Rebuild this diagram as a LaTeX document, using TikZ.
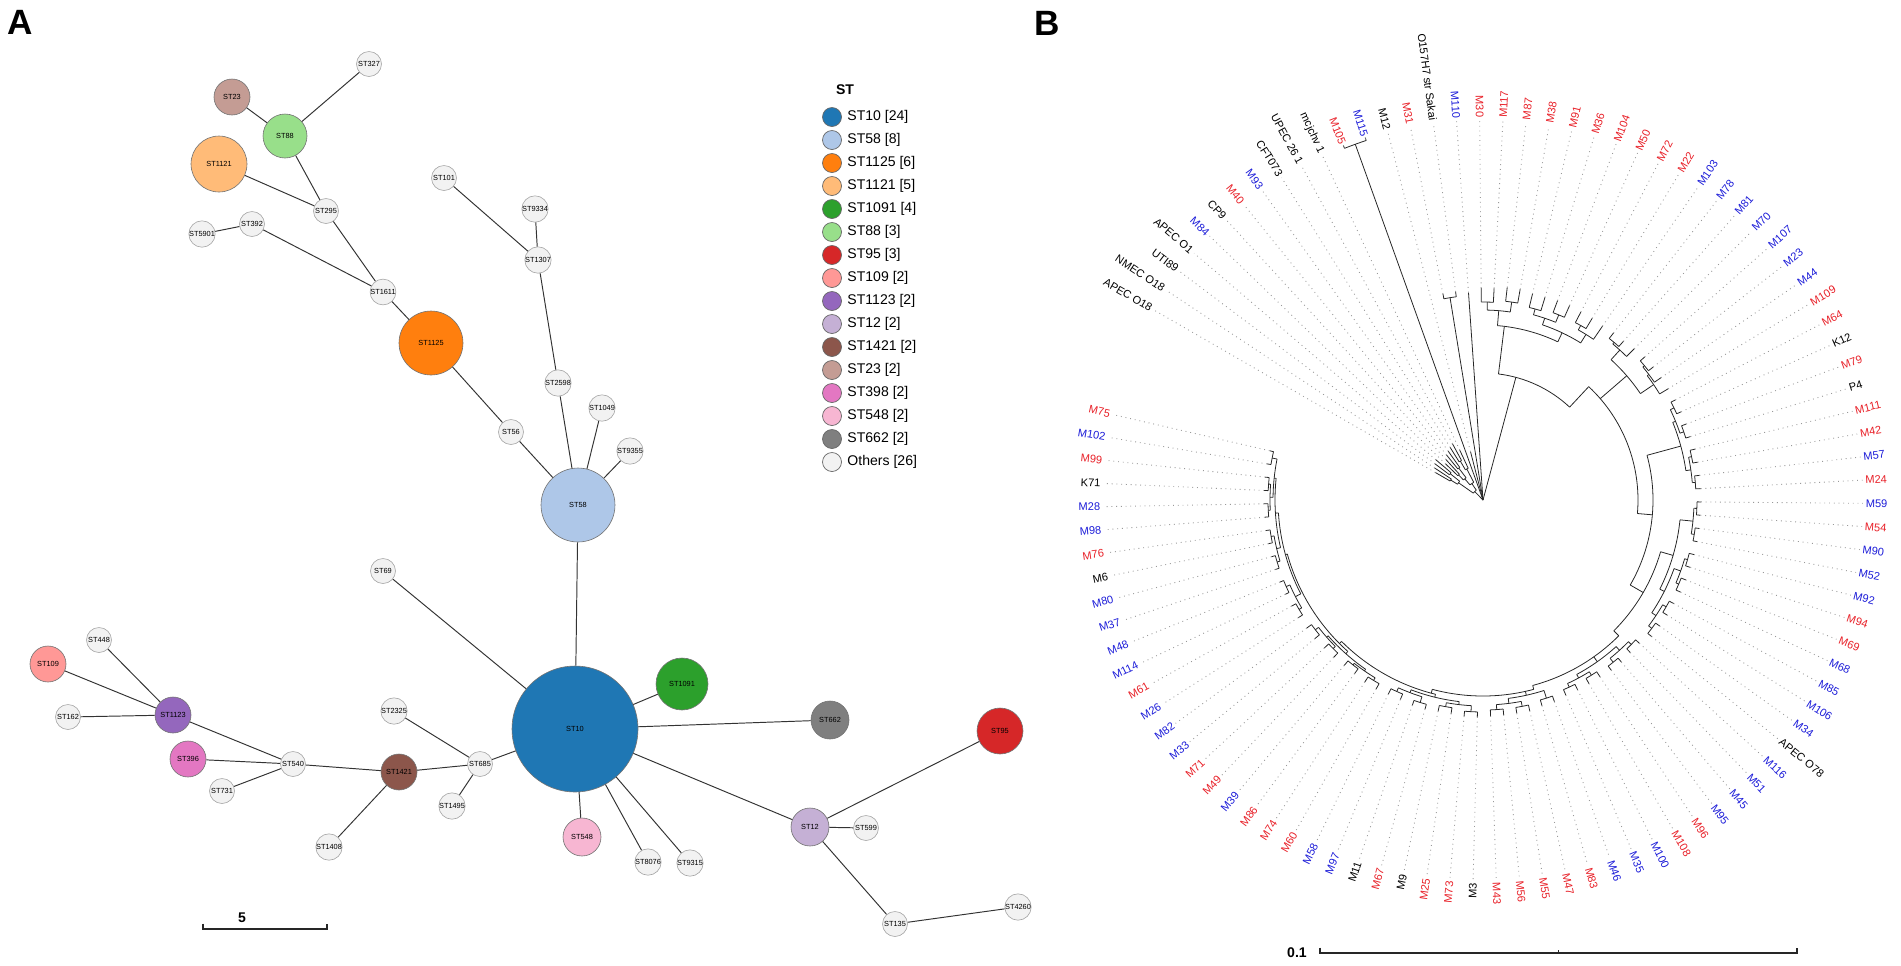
\documentclass[tikz,border=0pt]{standalone}
\usepackage{fontspec}
\setmainfont{Liberation Sans}
\usetikzlibrary{positioning, calc}
\definecolor{c10}{HTML}{1F77B4}
\definecolor{c58}{HTML}{AEC7E8}
\definecolor{c1125}{HTML}{FF7F0E}
\definecolor{c1121}{HTML}{FFBB78}
\definecolor{c1091}{HTML}{2CA02C}
\definecolor{c88}{HTML}{98DF8A}
\definecolor{c95}{HTML}{D62728}
\definecolor{c109}{HTML}{FF9896}
\definecolor{c1123}{HTML}{9467BD}
\definecolor{c12}{HTML}{C5B0D5}
\definecolor{c1421}{HTML}{8C564B}
\definecolor{c23}{HTML}{C49C94}
\definecolor{c398}{HTML}{E377C2}
\definecolor{c548}{HTML}{F7B6D2}
\definecolor{c662}{HTML}{7F7F7F}
\definecolor{othfill}{HTML}{F2F2F2}
\definecolor{tred}{RGB}{232,32,40}
\definecolor{tblue}{RGB}{28,28,216}
\tikzset{
    stnode/.style={circle, draw=black!55, line width=0.35pt, inner sep=0pt,
        minimum size=#1*0.04cm, font=\fontsize{4.2}{5}\selectfont},
    other/.style={stnode=12.5, fill=othfill, draw=black!35},
    link/.style={draw=black!80, line width=0.55pt},
    legdot/.style={circle, draw=black!60, line width=0.4pt, minimum size=0.38cm, inner sep=0pt},
    legtext/.style={font=\fontsize{8}{9}\selectfont, inner sep=1pt},
    branch/.style={black!85, line width=0.45pt},
    guide/.style={gray!80, line width=0.5pt, dash pattern=on 0.5pt off 2.2pt},
    leaf/.style={font=\fontsize{6.3}{7}\selectfont, inner sep=0.3pt},
    panel/.style={font=\fontsize{20}{24}\selectfont\bfseries},
    bar/.style={black!85, line width=0.8pt}
}
\newcommand\tang[1]{(150-3.5*(#1))}

\begin{document}
\begin{tikzpicture}[x=0.02cm, y=-0.02cm]
    \useasboundingbox (0,0) rectangle (1901,965);

    % panel letters
    \node[panel] (pa) at (20,22) {A};
    \node[panel] (pb) at (1047,23) {B};

    % coloured sequence types
    \node[stnode=63, fill=c10] (st10) at (575,729) {ST10};
    \node[stnode=37, fill=c58] (st58) at (578,505) {ST58};
    \node[stnode=32, fill=c1125] (st1125) at (431,343) {ST1125};
    \node[stnode=28, fill=c1121] (st1121) at (219,164) {ST1121};
    \node[stnode=26, fill=c1091] (st1091) at (682,684) {ST1091};
    \node[stnode=22, fill=c88] (st88) at (285,136) {ST88};
    \node[stnode=23, fill=c95] (st95) at (1000,731) {ST95};
    \node[stnode=18, fill=c109] (st109) at (48,664) {ST109};
    \node[stnode=18, fill=c1123] (st1123) at (173,715) {ST1123};
    \node[stnode=19, fill=c12] (st12) at (810,827) {ST12};
    \node[stnode=18, fill=c1421] (st1421) at (399,772) {ST1421};
    \node[stnode=18, fill=c23] (st23) at (232,97) {ST23};
    \node[stnode=18, fill=c398] (st396) at (188,759) {ST396};
    \node[stnode=19, fill=c548] (st548) at (582,837) {ST548};
    \node[stnode=19, fill=c662] (st662) at (830,720) {ST662};

    % others
    \node[other] (st327) at (369,64) {ST327};
    \node[other] (st101) at (444,178) {ST101};
    \node[other] (st9334) at (535,209) {ST9334};
    \node[other] (st295) at (326,211) {ST295};
    \node[other] (st392) at (252,224) {ST392};
    \node[other] (st5901) at (202,234) {ST5901};
    \node[other] (st1307) at (538,260) {ST1307};
    \node[other] (st1611) at (383,292) {ST1611};
    \node[other] (st2598) at (558,383) {ST2598};
    \node[other] (st1049) at (602,408) {ST1049};
    \node[other] (st56) at (511,432) {ST56};
    \node[other] (st9355) at (630,451) {ST9355};
    \node[other] (st69) at (383,571) {ST69};
    \node[other] (st448) at (99,640) {ST448};
    \node[other] (st162) at (68,717) {ST162};
    \node[other] (st2325) at (394,711) {ST2325};
    \node[other] (st540) at (293,764) {ST540};
    \node[other] (st731) at (222,791) {ST731};
    \node[other] (st1408) at (329,847) {ST1408};
    \node[other] (st685) at (480,764) {ST685};
    \node[other] (st1495) at (452,806) {ST1495};
    \node[other] (st8076) at (648,862) {ST8076};
    \node[other] (st9315) at (690,863) {ST9315};
    \node[other] (st599) at (866,828) {ST599};
    \node[other] (st135) at (895,924) {ST135};
    \node[other] (st4260) at (1018,907) {ST4260};

    % links
    \draw[link] (st327) -- (st88);
    \draw[link] (st23) -- (st88);
    \draw[link] (st88) -- (st295);
    \draw[link] (st1121) -- (st295);
    \draw[link] (st295) -- (st1611);
    \draw[link] (st5901) -- (st392);
    \draw[link] (st392) -- (st1611);
    \draw[link] (st1611) -- (st1125);
    \draw[link] (st1125) -- (st56);
    \draw[link] (st56) -- (st58);
    \draw[link] (st101) -- (st1307);
    \draw[link] (st9334) -- (st1307);
    \draw[link] (st1307) -- (st2598);
    \draw[link] (st2598) -- (st58);
    \draw[link] (st1049) -- (st58);
    \draw[link] (st9355) -- (st58);
    \draw[link] (st58) -- (st10);
    \draw[link] (st69) -- (st10);
    \draw[link] (st1091) -- (st10);
    \draw[link] (st662) -- (st10);
    \draw[link] (st685) -- (st10);
    \draw[link] (st548) -- (st10);
    \draw[link] (st8076) -- (st10);
    \draw[link] (st9315) -- (st10);
    \draw[link] (st12) -- (st10);
    \draw[link] (st2325) -- (st685);
    \draw[link] (st1421) -- (st685);
    \draw[link] (st1495) -- (st685);
    \draw[link] (st540) -- (st1421);
    \draw[link] (st1408) -- (st1421);
    \draw[link] (st1123) -- (st540);
    \draw[link] (st396) -- (st540);
    \draw[link] (st731) -- (st540);
    \draw[link] (st109) -- (st1123);
    \draw[link] (st448) -- (st1123);
    \draw[link] (st162) -- (st1123);
    \draw[link] (st95) -- (st12);
    \draw[link] (st599) -- (st12);
    \draw[link] (st135) -- (st12);
    \draw[link] (st4260) -- (st135);

    % legend
    \node[legtext, font=\fontsize{8}{9}\selectfont\bfseries] (legtitle) at (845,90) {ST};
    \foreach \c/\t [count=\k from 0] in {c10/ST10 [24], c58/ST58 [8], c1125/ST1125 [6],
        c1121/ST1121 [5], c1091/ST1091 [4], c88/ST88 [3], c95/ST95 [3], c109/ST109 [2],
        c1123/ST1123 [2], c12/ST12 [2], c1421/ST1421 [2], c23/ST23 [2], c398/ST398 [2],
        c548/ST548 [2], c662/ST662 [2], othfill/Others [26]} {
        \node[legdot, fill=\c] (leg\k) at (832,117+23*\k) {};
        \node[legtext, right=0.07cm of leg\k] (legt\k) {\t};
    }

    % scale bar A
    \coordinate (sa1) at (203,929);
    \coordinate (sa2) at (327,929);
    \draw[bar] ([yshift=3pt]sa1) -- (sa1) -- (sa2) -- ([yshift=3pt]sa2);
    \node[font=\fontsize{8}{9}\selectfont\bfseries] (sal) at (242,918) {5};

    % scale bar B
    \coordinate (sb1) at (1320,953);
    \coordinate (sb2) at (1797,953);
    \coordinate (sbm) at ($(sb1)!0.5!(sb2)$);
    \draw[bar] ([yshift=3pt]sb1) -- (sb1) -- (sb2) -- ([yshift=3pt]sb2);
    \draw[bar] (sbm) -- ([yshift=2pt]sbm);
    \node[font=\fontsize{8}{9}\selectfont\bfseries, left=4pt of sb1] (sbl) {0.1};

    % phylogenetic tree (arc between children, stem from parent radius)
    \begin{scope}[shift={(1483,500)}, yscale=-1]
        \foreach \ia/\ib/\r/\rp/\is in {
            0/1/38/30/0.5, 2/3/42/30/2.5, 0.5/2.5/30/12/1.5, 4/5/35/28/4.5, 6/7/40/28/6.5,
            4.5/6.5/28/20/5.5, 8/9/45/35/8.5, 8.5/10/35/20/9.25, 5.5/9.25/20/12/7.375,
            1.5/7.375/12/0/4.4375, 11/12/378/0/11.5, 14/15/205/0/14.5,
            17/18/198/190/17.5, 19/20/200/190/19.5, 17.5/19.5/190/175/18.5,
            21/22/198/192/21.5, 23/24/200/192/23.5, 21.5/23.5/192/185/22.5,
            25/26/200/195/25.5, 25.5/27/195/185/26.25, 22.5/26.25/185/175/24.375,
            18.5/24.375/175/127/19.142857,
            19.142857/29.428571/127/0/21.428571,
            29.428571/44.285714/155/127/29.428571,
            28/29/205/203/28.5, 28.5/30/203/190/29.25, 31/32/210/208/31.5,
            31.5/33/208/206/32.25, 32.25/34/206/190/33.125, 29.25/33.125/190/155/31.1875,
            38.5/51.428571/170/155/44.285714,
            35/36/212/208/35.5, 37/38/212/208/37.5, 35.5/37.5/208/205/36.5,
            39/40/213/210/39.5, 41/42/213/210/41.5, 39.5/41.5/210/205/40.5,
            36.5/40.5/205/170/38.5,
            47.5/55.714286/185/170/51.428571,
            43/44/214/211/43.5, 45/46/214/211/45.5, 43.5/45.5/211/198/44.5,
            47/48/213/210/47.5, 49/50/213/210/49.5, 47.5/49.5/210/203/48.5,
            51/52/212/208/51.5, 53/54/212/208/53.5, 51.5/53.5/208/203/52.5,
            48.5/52.5/203/198/50.5, 44.5/50.5/198/185/47.5,
            55.714286/64.285714/192/185/55.714286,
            55/56/207/203/55.5, 57/58/208/203/57.5, 55.5/57.5/203/198/56.5,
            59/60/206/202/59.5, 61/62/206/202/61.5, 59.5/61.5/202/198/60.5,
            56.5/60.5/198/192/58.5,
            64.285714/72.857143/196/192/64.285714,
            63/64/208/200/63.5, 65/66/210/205/65.5, 67/68/210/205/67.5,
            65.5/67.5/205/200/66.5, 63.5/66.5/200/196/65,
            72.5/81.428571/200/196/72.857143,
            69/70/212/206/69.5, 71/72/210/206/71.5, 69.5/71.5/206/203/70.5,
            73/74/212/206/73.5, 75/76/210/206/75.5, 73.5/75.5/206/203/74.5,
            70.5/74.5/203/200/72.5,
            80.5/89.875/203/200/81.428571,
            77/78/211/208/77.5, 79/80/210/208/79.5, 77.5/79.5/208/206/78.5,
            81/82/211/208/81.5, 83/84/212/208/83.5, 81.5/83.5/208/206/82.5,
            78.5/82.5/206/203/80.5,
            85/86/214/211/85.5, 87/88/215/211/87.5, 85.5/87.5/211/205/86.5,
            89/90/215/212/89.5, 91/92/215/212/91.5, 89.5/91.5/212/208/90.5,
            93/94/215/213/93.5, 95/96/215/213/95.5, 93.5/95.5/213/210/94.5,
            97/98/215/210/97.5, 94.5/97.5/210/208/96, 90.5/96/208/205/93.25,
            86.5/93.25/205/203/89.875} {
            \draw[branch] ({\tang{\ia}}:\r) arc[start angle={\tang{\ia}}, end angle={\tang{\ib}}, radius=\r];
            \draw[branch] ({\tang{\is}}:\rp) -- ({\tang{\is}}:\r);
        }
        \foreach \lab/\col/\rp/\tip [count=\i from 0] in {
            APEC O18/black/38/55, NMEC O18/black/38/58, UTI89/black/42/60, APEC O1/black/42/62,
            M84/tblue/35/52, CP9/black/35/55, M40/tred/40/58, M93/tblue/40/60,
            CFT073/black/45/62, UPEC 26 1/black/45/64, mcjchv 1/black/35/55,
            M105/tred/378/381, M115/tblue/378/381, M12/black/0/50, M31/tred/205/210,
            O157H7 str Sakai/black/205/210, M110/tblue/0/208,
            M30/tred/198/212, M117/tred/198/212, M87/tred/200/214, M38/tred/200/214,
            M91/tred/198/212, M36/tred/198/212, M104/tred/200/213, M50/tred/200/213,
            M72/tred/200/212, M22/tred/200/212, M103/tblue/195/211,
            M78/tblue/205/212, M81/tblue/205/212, M70/tblue/203/214, M107/tblue/210/216,
            M23/tblue/210/216, M44/tblue/208/216, M109/tred/206/216, M64/tred/212/217,
            K12/black/212/217, M79/tred/212/217, P4/black/212/217, M111/tred/213/218,
            M42/tred/213/218, M57/tblue/213/218, M24/tred/213/218, M59/tblue/214/218,
            M54/tred/214/218, M90/tblue/214/218, M52/tblue/214/218, M92/tblue/213/218,
            M94/tred/213/218, M69/tred/213/218, M68/tblue/213/218, M85/tblue/212/217,
            M106/tblue/212/217, M34/tblue/212/217, APEC O78/black/212/217,
            M116/tblue/207/212, M51/tblue/207/212, M45/tblue/208/213, M95/tblue/208/213,
            M96/tred/206/212, M108/tred/206/212, M100/tblue/206/212, M35/tblue/206/212,
            M46/tblue/208/214, M83/tred/208/214, M47/tred/210/216, M55/tred/210/216,
            M56/tred/210/216, M43/tred/210/216, M3/black/212/217, M73/tred/212/217,
            M25/tred/210/216, M9/black/210/216, M67/tred/212/217, M11/black/212/217,
            M97/tblue/210/216, M58/tblue/210/216, M60/tred/211/217, M74/tred/211/217,
            M86/tred/210/216, M39/tblue/210/216, M49/tred/211/217, M71/tred/211/217,
            M33/tblue/212/218, M82/tblue/212/218, M26/tblue/214/219, M61/tred/214/219,
            M114/tblue/215/219, M48/tblue/215/219, M37/tblue/215/219, M80/tblue/215/219,
            M6/black/215/219, M76/tred/215/219, M98/tblue/215/219, M28/tblue/215/219,
            K71/black/215/219, M99/tred/215/219, M102/tblue/215/219, M75/tred/215/219} {
            \pgfmathsetmacro\a{150-3.5*\i}
            \draw[branch] (\a:\rp) -- (\a:\tip);
            \draw[guide] (\a:\tip) -- (\a:380);
            \pgfmathtruncatemacro\flip{or(\a>90,\a<-90)}
            \ifnum\flip=1 \pgfmathsetmacro\rot{\a+180}\def\anc{east}\else\let\rot\a\def\anc{west}\fi
            \node[leaf, text=\col, rotate=\rot, anchor=\anc] (lf\i) at (\a:382) {\lab};
        }
    \end{scope}
\end{tikzpicture}
\end{document}
